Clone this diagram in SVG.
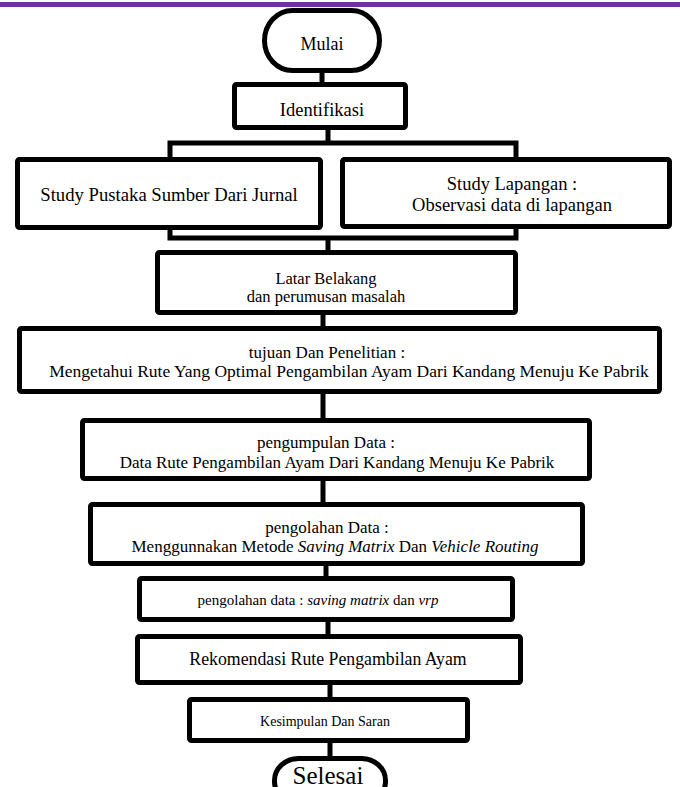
<svg xmlns="http://www.w3.org/2000/svg" width="680" height="787" viewBox="0 0 680 787">
<style>
.box{fill:#fff;stroke:#000;stroke-width:5}
.ln{fill:none;stroke:#000;stroke-width:5}
.t{font-family:"Liberation Serif","Times New Roman","DejaVu Serif",serif;fill:#000;text-anchor:middle}
.i{font-style:italic}
</style>
<rect x="0" y="2" width="680" height="5" fill="#7030A0"/>
<g id="connectors">
<line class="ln" x1="322" y1="70" x2="322" y2="84"/>
<line class="ln" x1="328" y1="128" x2="328" y2="143"/>
<rect class="ln" x="170" y="143" width="346" height="95"/>
<line class="ln" x1="328" y1="238" x2="328" y2="252"/>
<line class="ln" x1="323" y1="313" x2="323" y2="328"/>
<line class="ln" x1="323" y1="392" x2="323" y2="420"/>
<line class="ln" x1="323" y1="479" x2="323" y2="504"/>
<line class="ln" x1="326" y1="564" x2="326" y2="578"/>
<line class="ln" x1="328" y1="620" x2="328" y2="636"/>
<line class="ln" x1="330" y1="683" x2="330" y2="699"/>
<line class="ln" x1="330" y1="741" x2="330" y2="758"/>
</g>
<g id="mulai"><rect class="box" x="264.5" y="10.5" width="115" height="60" rx="28" ry="30"/><text class="t" x="322" y="50" font-size="18">Mulai</text></g>
<g id="identifikasi"><rect class="box" x="234.5" y="84.5" width="171" height="43" rx="2"/><text class="t" x="322" y="116" font-size="18.5">Identifikasi</text></g>
<g id="study-pustaka"><rect class="box" x="17.5" y="159.5" width="303" height="68" rx="2"/><text class="t" x="169" y="201" font-size="18.7">Study Pustaka Sumber Dari Jurnal</text></g>
<g id="study-lapangan"><rect class="box" x="342.5" y="159.5" width="327" height="67" rx="2"/><text class="t" x="512" y="190" font-size="18.5">Study Lapangan :</text><text class="t" x="512" y="211" font-size="18.5">Observasi data di lapangan</text></g>
<g id="latar"><rect class="box" x="157.5" y="252.5" width="358" height="60" rx="2"/><text class="t" x="326" y="284" font-size="16.5">Latar Belakang</text><text class="t" x="326" y="302" font-size="16.5">dan perumusan masalah</text></g>
<g id="tujuan"><rect class="box" x="19.5" y="328.5" width="640" height="63" rx="2"/><text class="t" x="327" y="358" font-size="17">tujuan Dan Penelitian :</text><text class="t" x="349" y="377" font-size="17.5">Mengetahui Rute Yang Optimal Pengambilan Ayam Dari Kandang Menuju Ke Pabrik</text></g>
<g id="pengumpulan"><rect class="box" x="82.5" y="420.5" width="507" height="58" rx="2"/><text class="t" x="326" y="448" font-size="17">pengumpulan Data :</text><text class="t" x="337" y="468" font-size="17">Data Rute Pengambilan Ayam Dari Kandang Menuju Ke Pabrik</text></g>
<g id="pengolahan"><rect class="box" x="90.5" y="504.5" width="492" height="59" rx="2"/><text class="t" x="327" y="533" font-size="17">pengolahan Data :</text><text class="t" x="335" y="552" font-size="17">Menggunnakan Metode <tspan class="i">Saving Matrix</tspan> Dan <tspan class="i">Vehicle Routing</tspan></text></g>
<g id="pengolahan-data"><rect class="box" x="139.5" y="578.5" width="373" height="41" rx="2"/><text class="t" x="318" y="605" font-size="15">pengolahan data : <tspan class="i">saving matrix</tspan> dan <tspan class="i">vrp</tspan></text></g>
<g id="rekomendasi"><rect class="box" x="137.5" y="636.5" width="383" height="46" rx="2"/><text class="t" x="328" y="665" font-size="17.8">Rekomendasi Rute Pengambilan Ayam</text></g>
<g id="kesimpulan"><rect class="box" x="189.5" y="699.5" width="278" height="41" rx="2"/><text class="t" x="325" y="726" font-size="14">Kesimpulan Dan Saran</text></g>
<g id="selesai"><rect class="box" x="274.5" y="758.5" width="111" height="45" rx="24" ry="22"/><text class="t" x="328" y="784" font-size="25">Selesai</text></g>
</svg>
